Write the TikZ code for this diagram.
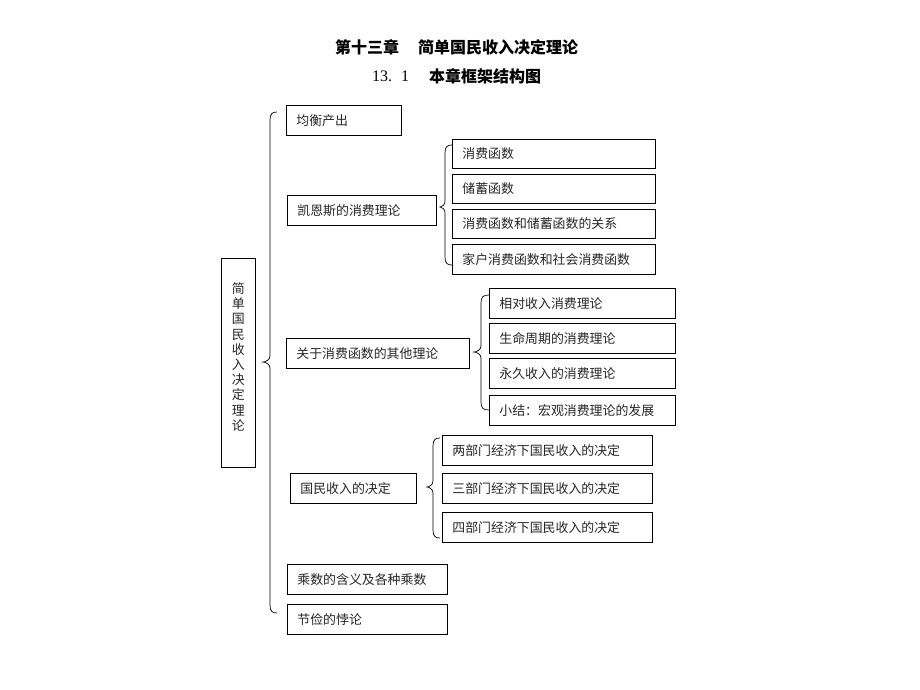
\documentclass[tikz,border=0pt]{standalone}
\usepackage{fontspec}
\newfontfamily\cjk{Noto Sans CJK SC}
\setmainfont{Liberation Serif}
\newcommand\mybrace[6]{%
  \draw[bracestyle] (#1,#4) .. controls (#2+2,#4) and (#2,#4+2) .. (#2,#4+8)
    -- (#2,#5-6) .. controls (#2,#5-2) and (#3+2,#5) .. (#3,#5)
    .. controls (#3+2,#5) and (#2,#5+2) .. (#2,#5+6)
    -- (#2,#6-8) .. controls (#2,#6-2) and (#2+2,#6) .. (#1,#6);}
\begin{document}
\begin{tikzpicture}[x=1pt,y=-1pt,
  box/.style={draw=black, line width=0.8pt, anchor=north west, inner xsep=10pt, inner ysep=0pt,
    minimum height=30pt, align=left, font=\cjk\fontsize{12.9}{14}\selectfont, text=black!85},
  bracestyle/.style={draw=black, line width=0.7pt},
  titlefont/.style={font=\cjk\bfseries\fontsize{16}{18}\selectfont, inner sep=0pt}]
\useasboundingbox[fill=white] (0,0) rectangle (920,690);
% titles
\node[titlefont, anchor=west] (t1a) at (335,47) {第十三章};
\node[titlefont, anchor=west] (t1b) at (418,47) {简单国民收入决定理论};
\node[font=\fontsize{16}{18}\selectfont, inner sep=0pt, anchor=west] (t2a) at (372,76) {13.\hspace{0.55em}1};
\node[titlefont, anchor=west] (t2b) at (429,76) {本章框架结构图};
% root
\node[draw=black, line width=0.8pt, anchor=north west, minimum width=34pt, minimum height=209pt,
  inner sep=0pt] (root) at (221,258) {};
\node[inner sep=0pt, align=center, font=\cjk\fontsize{12.9}{15.2}\selectfont, text=black!85]
  (rootlbl) at ([yshift=6pt]root.center) {简\\单\\国\\民\\收\\入\\决\\定\\理\\论};
% level 1
\node[box, text width=95pt] (a) at (286,105) {均衡产出};
\node[box, text width=129pt] (b) at (287,195) {凯恩斯的消费理论};
\node[box, text width=163pt] (c) at (286,338) {关于消费函数的其他理论};
\node[box, text width=106pt] (d) at (290,473) {国民收入的决定};
\node[box, text width=140pt] (e) at (287,564) {乘数的含义及各种乘数};
\node[box, text width=140pt] (f) at (287,604) {节俭的悖论};
% level 2 under b
\node[box, text width=183pt, minimum height=29pt] (b1) at (452,139) {消费函数};
\node[box, text width=183pt, minimum height=29pt] (b2) at (452,174) {储蓄函数};
\node[box, text width=183pt, minimum height=29pt] (b3) at (452,209) {消费函数和储蓄函数的关系};
\node[box, text width=183pt] (b4) at (452,244) {家户消费函数和社会消费函数};
% level 2 under c
\node[box, text width=166pt] (c1) at (489,288) {相对收入消费理论};
\node[box, text width=166pt] (c2) at (489,323) {生命周期的消费理论};
\node[box, text width=166pt] (c3) at (489,358) {永久收入的消费理论};
\node[box, text width=166pt] (c4) at (489,395) {小结：宏观消费理论的发展};
% level 2 under d
\node[box, text width=190pt] (d1) at (442,435) {两部门经济下国民收入的决定};
\node[box, text width=190pt] (d2) at (442,473) {三部门经济下国民收入的决定};
\node[box, text width=190pt] (d3) at (442,512) {四部门经济下国民收入的决定};
% braces
\mybrace{277}{270}{263}{112}{362}{613}
\mybrace{452}{445}{440}{145}{207}{265}
\mybrace{489}{481}{474}{295}{352}{410}
\mybrace{440}{433}{427}{438}{487}{538}
\end{tikzpicture}
\end{document}
